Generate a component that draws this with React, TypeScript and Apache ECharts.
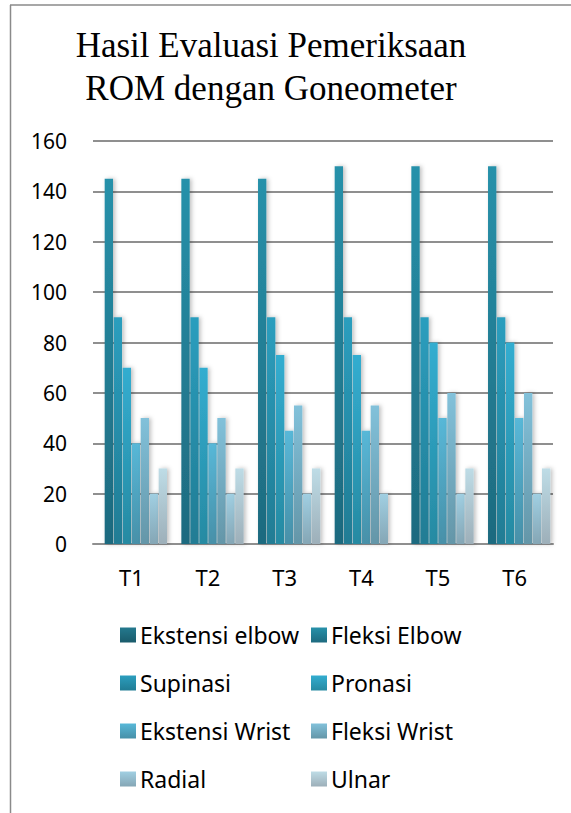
import React, { useEffect, useRef } from "react";
import * as echarts from "echarts";

const categories = ["T1", "T2", "T3", "T4", "T5", "T6"];
const seriesNames = [
  "Ekstensi elbow",
  "Fleksi Elbow",
  "Supinasi",
  "Pronasi",
  "Ekstensi Wrist",
  "Fleksi Wrist",
  "Radial",
  "Ulnar",
];
const ekstensiElbow = [0, 0, 0, 0, 0, 0];
const fleksiElbow = [145, 145, 145, 150, 150, 150];
const supinasi = [90, 90, 90, 90, 90, 90];
const pronasi = [70, 70, 75, 75, 80, 80];
const ekstensiWrist = [40, 40, 45, 45, 50, 50];
const fleksiWrist = [50, 50, 55, 55, 60, 60];
const radial = [20, 20, 20, 20, 20, 20];
const ulnar = [30, 30, 30, 0, 30, 30];
const seriesValues = [ekstensiElbow, fleksiElbow, supinasi, pronasi, ekstensiWrist, fleksiWrist, radial, ulnar];
const yTicks = [0, 20, 40, 60, 80, 100, 120, 140, 160];

const gradients: [string, string][] = [
  ["#24798e", "#1a5b6b"],
  ["#2791aa", "#1e6a7f"],
  ["#2c9ebe", "#207c94"],
  ["#33add0", "#268aa2"],
  ["#58b8d8", "#4790a8"],
  ["#82c1da", "#6496a8"],
  ["#a0cfe2", "#85a6b5"],
  ["#bedce6", "#9dafb9"],
];

export default function App() {
  const ref = useRef<HTMLDivElement>(null);
  useEffect(() => {
    if (!ref.current) return;
    const chart = echarts.init(ref.current, undefined, { renderer: "svg" });
    const font = "'Noto Sans', sans-serif";
    const series = seriesNames.map((name, i) => ({
      name,
      type: "bar",
      data: seriesValues[i],
      barGap: "8%",
      barCategoryGap: "7%",
      itemStyle: {
        color: new echarts.graphic.LinearGradient(0, 0, 0, 1, [
          { offset: 0, color: gradients[i][0] },
          { offset: 1, color: gradients[i][1] },
        ]),
        shadowColor: "rgba(0,0,0,0.25)",
        shadowBlur: 4,
        shadowOffsetX: 2,
      },
    }));
    const legendBase = {
      orient: "vertical",
      top: 618,
      itemWidth: 16,
      itemHeight: 15,
      itemGap: 24,
      icon: "rect",
      textStyle: { fontFamily: font, fontSize: 23, color: "#000", lineHeight: 24, padding: [0, 0, 0, -1] },
    };
    chart.setOption({
      animation: false,
      backgroundColor: "#fff",
      grid: { left: 93, right: 18, top: 141, bottom: 813 - 544 },
      xAxis: {
        type: "category",
        data: categories,
        axisLine: { lineStyle: { color: "#8f8f8f", width: 2 } },
        axisTick: { show: false },
        axisLabel: { fontFamily: font, fontSize: 22, color: "#000", margin: 22 },
      },
      yAxis: {
        type: "value",
        min: 0,
        max: yTicks[yTicks.length - 1],
        interval: 20,
        axisLine: { show: false },
        axisTick: { show: false },
        axisLabel: { fontFamily: font, fontSize: 21, color: "#000", margin: 26 },
        splitLine: { lineStyle: { color: "#8f8f8f", width: 2 } },
      },
      legend: [
        { ...legendBase, left: 115, data: [seriesNames[0], seriesNames[2], seriesNames[4], seriesNames[6]] },
        { ...legendBase, left: 306, data: [seriesNames[1], seriesNames[3], seriesNames[5], seriesNames[7]] },
      ],
      graphic: [
        { type: "line", shape: { x1: 10.5, y1: 5, x2: 10.5, y2: 813 }, style: { stroke: "#8a8a8a", lineWidth: 1.5 } },
        { type: "line", shape: { x1: 10, y1: 5, x2: 571, y2: 5 }, style: { stroke: "#8a8a8a", lineWidth: 1.5 } },
        {
          type: "text",
          x: 271,
          y: 24,
          style: {
            text: "Hasil Evaluasi Pemeriksaan\nROM dengan Goneometer",
            align: "center",
            verticalAlign: "top",
            fontFamily: "'Liberation Serif', serif",
            fontSize: 35,
            lineHeight: 43,
            fill: "#000",
          },
        },
      ],
      series,
    });
    return () => chart.dispose();
  }, []);
  return <div ref={ref} style={{ position: "fixed", left: 0, top: 0, width: 571, height: 813 }} />;
}
